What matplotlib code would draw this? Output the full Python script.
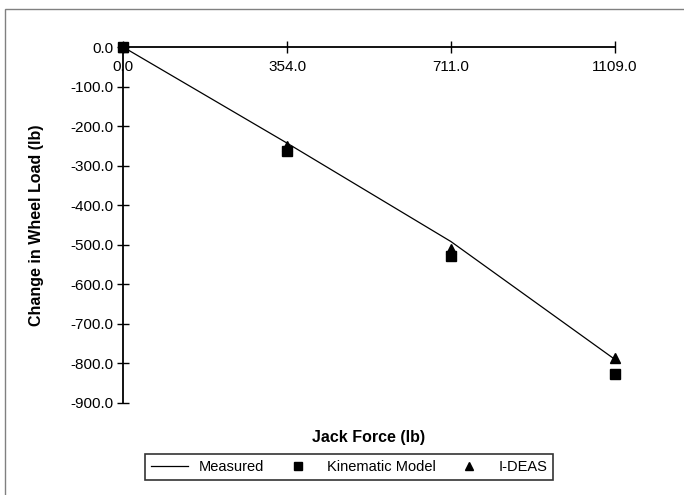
import matplotlib
matplotlib.use("Agg")
import matplotlib.pyplot as plt
from matplotlib.patches import Rectangle

plt.rcParams['font.family'] = ['Liberation Sans', 'DejaVu Sans']

# data
jack_force = ["0.0", "354.0", "711.0", "1109.0"]
measured = [0, -243, -492, -790]
kinematic = [0, -263, -528, -826]
ideas = [0, -250, -510, -786]
y_ticks = [0, -100, -200, -300, -400, -500, -600, -700, -800, -900]

fig = plt.figure(figsize=(6.84, 4.95), dpi=100)
ax = fig.add_axes([0.18, 0.186, 0.719, 0.719])

x = list(range(len(jack_force)))
ax.plot(x, measured, color="black", lw=0.9, label="Measured")
ax.plot(x, kinematic, ls="none", marker="s", ms=6.5, color="black", label="Kinematic Model")
ax.plot(x, ideas, ls="none", marker="^", ms=6.5, color="black", label="I-DEAS")
for ln in ax.lines:
    ln.set_clip_on(False)

ax.set_xlim(0, 3)
ax.set_ylim(-900, 0)
ax.spines["bottom"].set_visible(False)
ax.spines["right"].set_visible(False)
ax.spines["top"].set_linewidth(1.3)
ax.spines["left"].set_linewidth(1.3)

# category axis sits at y = 0 (top), labels drawn just under it
ax.xaxis.tick_top()
ax.set_xticks(x)
ax.set_xticklabels([])
ax.tick_params(axis="x", direction="inout", length=8, width=1)
for i, lbl in enumerate(jack_force):
    ax.annotate(lbl, xy=(i, 0), xytext=(0, -9), textcoords="offset points",
                ha="center", va="top", fontsize=11)

ax.set_yticks(y_ticks)
ax.set_yticklabels([f"{v:.1f}" for v in y_ticks])
ax.tick_params(axis="y", direction="inout", length=8, width=1, labelsize=11, pad=3)

ax.set_xlabel("Jack Force (lb)", fontsize=11.5, fontweight="bold")
ax.xaxis.set_label_position("bottom")
ax.xaxis.set_label_coords(0.5, -0.075)
ax.set_ylabel("Change in Wheel Load (lb)", fontsize=11.5, fontweight="bold")
ax.yaxis.set_label_coords(-0.16, 0.5)

leg = fig.legend(loc="center", bbox_to_anchor=(0.51, 0.057), ncol=3, fontsize=10.5,
                 frameon=True, fancybox=False, edgecolor="black", handlelength=2.6,
                 columnspacing=1.0, handletextpad=0.7, borderpad=0.4, markerscale=0.8)
leg.get_frame().set_linewidth(1.2)

fig.patches.append(Rectangle((5 / 684, -0.1), 1.2, (495 - 9) / 495 + 0.1,
                             transform=fig.transFigure, fill=False,
                             edgecolor="#808080", lw=1))

fig.savefig("out.png", dpi=100)
